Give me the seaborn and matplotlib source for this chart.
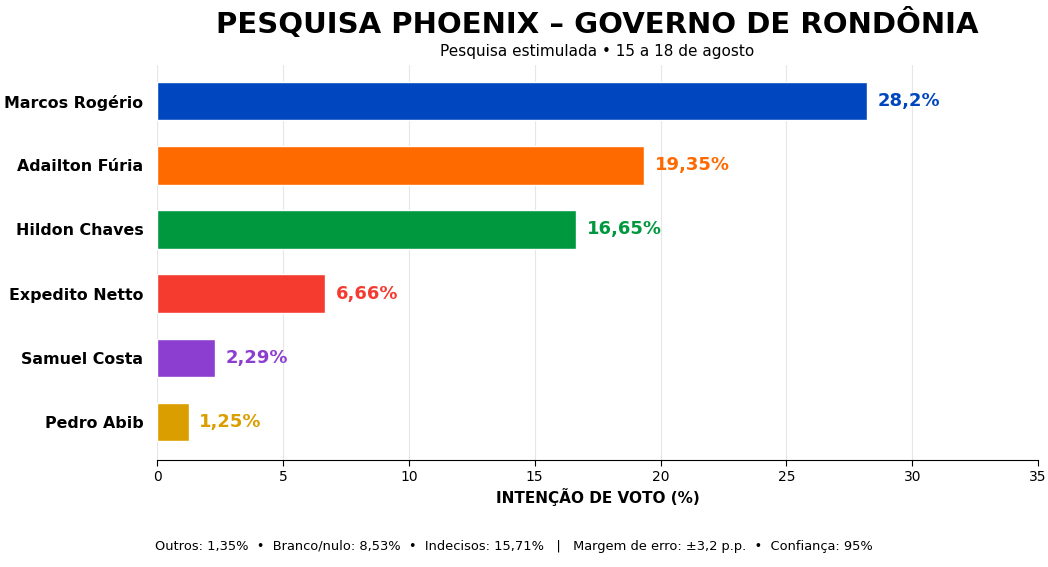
import pandas as pd
import matplotlib.pyplot as plt
import seaborn as sns

candidatos = ["Marcos Rogério", "Adailton Fúria", "Hildon Chaves",
              "Expedito Netto", "Samuel Costa", "Pedro Abib"]
votos = [28.2, 19.35, 16.65, 6.66, 2.29, 1.25]
rotulos = ["28,2%", "19,35%", "16,65%", "6,66%", "2,29%", "1,25%"]
cores = ["#0047BF", "#FF6A00", "#00983F", "#F53A30", "#8B3ECF", "#DB9E00"]

sns.set_style("white")
plt.rcParams['font.family'] = ['DejaVu Sans']
plt.rcParams['text.color'] = 'black'
plt.rcParams['axes.labelcolor'] = 'black'
plt.rcParams['xtick.color'] = 'black'
plt.rcParams['ytick.color'] = 'black'

df = pd.DataFrame({"candidato": candidatos, "voto": votos})

fig = plt.figure(figsize=(10.48, 5.67), dpi=100)
ax = fig.add_axes([0.150, 0.188, 0.8405, 0.697])

sns.barplot(data=df, x="voto", y="candidato", hue="candidato",
            palette=cores, orient="h", width=0.6, legend=False, ax=ax,
            saturation=1)

for i, (v, lab) in enumerate(zip(votos, rotulos)):
    ax.text(v + 0.42, i, lab, va="center", ha="left", fontsize=13,
            fontweight="bold", color=cores[i])

ax.set_xlim(0, 35)
ax.set_ylim(5.6, -0.56)
ax.set_xticks(range(0, 36, 5))
ax.xaxis.grid(True, color="#e6e6e6", linewidth=0.8)
ax.set_axisbelow(True)
for s in ["top", "right", "left"]:
    ax.spines[s].set_visible(False)
ax.spines["bottom"].set_color("black")
ax.tick_params(axis="x", bottom=True, length=4, pad=3, labelsize=10)
ax.tick_params(axis="y", left=False, length=0, labelsize=11.4, pad=10)
for t in ax.get_yticklabels():
    t.set_fontweight("bold")
ax.set_ylabel("")
ax.set_xlabel("INTENÇÃO DE VOTO (%)", fontsize=11, fontweight="bold", labelpad=3)

fig.text(0.57, 0.958, "PESQUISA PHOENIX – GOVERNO DE RONDÔNIA",
         ha="center", va="center", fontsize=21, fontweight="bold")
fig.text(0.57, 0.91, "Pesquisa estimulada • 15 a 18 de agosto",
         ha="center", va="center", fontsize=11)
fig.text(0.49, 0.036,
         "Outros: 1,35%  •  Branco/nulo: 8,53%  •  Indecisos: 15,71%   |   "
         "Margem de erro: ±3,2 p.p.  •  Confiança: 95%",
         ha="center", va="center", fontsize=9.4)

fig.savefig("out.png", dpi=100, facecolor="white")
